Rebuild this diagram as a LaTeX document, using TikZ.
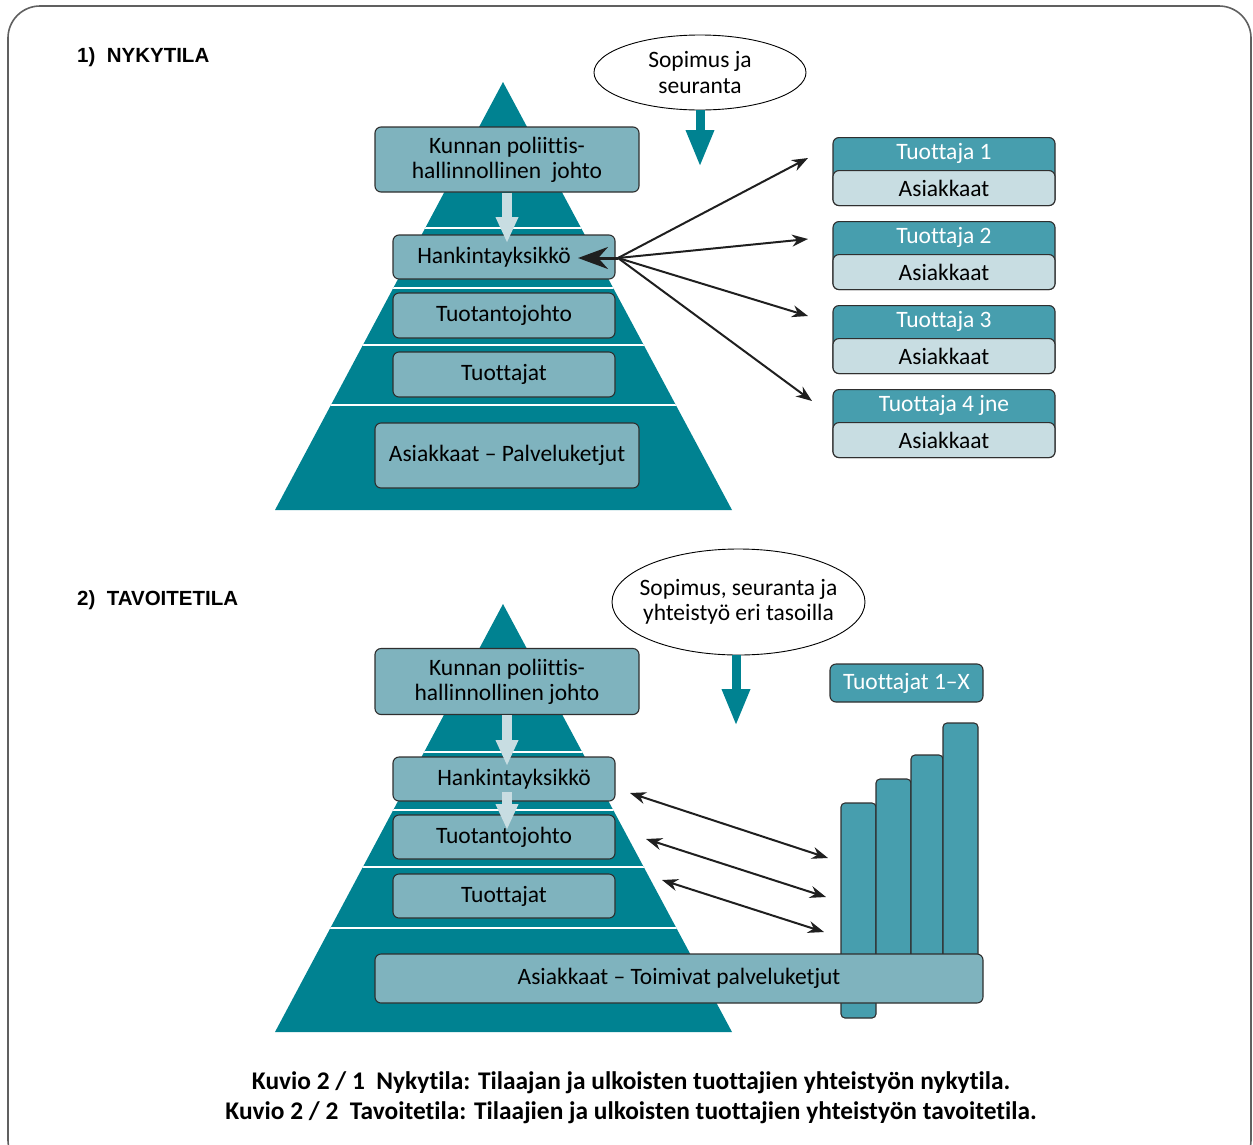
\documentclass[tikz,border=0pt]{standalone}
\usepackage{fontspec}
\setmainfont{Carlito}[Ligatures={TeX,NoCommon}]
\newfontfamily\titlefont{Liberation Sans}
\usetikzlibrary{arrows.meta,shapes.geometric}

\definecolor{pyramid}{HTML}{008291}
\definecolor{tierfill}{HTML}{7FB3BE}
\definecolor{producer}{HTML}{479EAE}
\definecolor{client}{HTML}{C8DDE2}
\definecolor{outline}{HTML}{2F2F2F}

\tikzset{
  tierbox/.style={draw=outline, fill=tierfill, line width=1.1pt, rounded corners=6pt,
    inner sep=0pt, align=center, font=\fontsize{23.5}{25}\selectfont},
  header/.style={tierbox, fill=producer, text=white},
  clientbox/.style={tierbox, fill=client},
  bubble/.style={draw=black, ellipse, fill=white, line width=0.9pt, inner sep=0pt,
    align=center, font=\fontsize{23.5}{25.5}\selectfont},
  flow/.style={line width=2pt, draw=black!88, -{Stealth[length=16pt,width=12pt]}},
  twoway/.style={line width=2pt, draw=black!88,
    {Stealth[length=16pt,width=12pt]}-{Stealth[length=16pt,width=12pt]}},
  contract/.style={draw=pyramid, line width=9pt, -{Triangle[length=37pt,width=26pt]}},
  handover/.style={draw=client, line width=10pt, -{Triangle[length=26pt,width=21pt]}},
  heading/.style={font=\titlefont\bfseries\fontsize{20.5}{24}\selectfont, anchor=west, inner sep=0pt},
  caption/.style={font=\bfseries\fontsize{25.4}{28}\selectfont, inner sep=0pt},
  bar/.style={fill=producer, draw=outline, line width=1.1pt, rounded corners=4pt}
}

\begin{document}
\begin{tikzpicture}[x=1pt,y=-1pt]
  \useasboundingbox (0,0) rectangle (1253,1144);
  \draw[gray!75!black, line width=1.6pt, rounded corners=32pt] (8,6) rectangle (1251,1172);% frame

  % 1) NYKYTILA
  \node[heading] (title1) at (77,57) {1)\ \ NYKYTILA};
  \begin{scope}
    \clip (503,82) -- (732,510) -- (275,510) -- cycle;
    \fill[pyramid] (260,70) rectangle (750,520);
    \foreach \h in {228,288,345,405}
      \draw[white, line width=2.5pt] (260,\h) -- (750,\h);
  \end{scope}

  \node[tierbox, minimum width=264, minimum height=65] (kunta1) at (507,159.5) {Kunnan poliittis-\\hallinnollinen\ \ johto};
  \node[tierbox, minimum width=222, minimum height=44] (hankinta1) at (504,257) {Hankintayksikkö\kern20pt};
  \node[tierbox, minimum width=222, minimum height=45] (tuotanto1) at (504,315.5) {Tuotantojohto};
  \node[tierbox, minimum width=222, minimum height=45] (tuottajat1) at (504,374.5) {Tuottajat};
  \node[tierbox, minimum width=264, minimum height=65] (asiakkaat1) at (507,455.5) {Asiakkaat – Palveluketjut};

  \coordinate (kuntatip1) at (507,243);
  \draw[handover] (kunta1.south) -- (kuntatip1);

  \node[bubble, minimum width=212, minimum height=75] (sopimus1) at (700,72.5) {Sopimus ja\\seuranta};
  \coordinate (drop1) at (700,167);
  \draw[contract] (sopimus1.south) -- (drop1);

  \foreach \n/\lab/\top in {1/1/137,2/2/221,3/3/305,4/4 jne/389}{% producers and their clients
    \node[header, minimum width=222, minimum height=68, anchor=north] (tuottaja\n) at (944,\top) {};
    \node[clientbox, minimum width=222, minimum height=35, anchor=south] (asiak\n) at (tuottaja\n.south) {Asiakkaat};
    \node[text=white, font=\fontsize{23.5}{25}\selectfont] (nimi\n) at (944,{\top+16}) {Tuottaja \lab};
  }

  \coordinate (hub) at (618,258);
  \coordinate (hanktip) at (578,258);
  \draw[line width=3pt, draw=black!88, -{Stealth[length=30pt,width=22pt]}] (hub) -- (hanktip);
  \foreach \i/\x/\y in {1/808/158,2/808/239,3/808/316,4/812/401}{
    \coordinate (reach\i) at (\x,\y);
    \draw[flow] (hub) -- (reach\i);
  }

  % 2) TAVOITETILA
  \node[heading] (title2) at (77,600) {2)\ \ TAVOITETILA};
  \begin{scope}
    \clip (503,604) -- (732,1032) -- (275,1032) -- cycle;
    \fill[pyramid] (260,590) rectangle (750,1040);
    \foreach \h in {752,810,867,928}
      \draw[white, line width=2.5pt] (260,\h) -- (750,\h);
  \end{scope}

  \node[tierbox, minimum width=264, minimum height=66] (kunta2) at (507,681.5) {Kunnan poliittis-\\hallinnollinen johto};
  \node[tierbox, minimum width=222, minimum height=44] (hankinta2) at (504,779) {\kern20pt Hankintayksikkö};
  \node[tierbox, minimum width=222, minimum height=44] (tuotanto2) at (504,837) {Tuotantojohto};
  \node[tierbox, minimum width=222, minimum height=44] (tuottajat2) at (504,896) {Tuottajat};

  \coordinate (kuntatip2) at (507,766);
  \draw[handover] (kunta2.south) -- (kuntatip2);
  \coordinate (hanktop2) at (507,792);
  \coordinate (hanktip2) at (507,830);
  \draw[handover] (hanktop2) -- (hanktip2);

  \node[bubble, inner xsep=-12pt, minimum width=253, minimum height=106] (sopimus2) at (738.5,602) {Sopimus, seuranta ja\\yhteistyö eri tasoilla};
  \coordinate (drop2) at (736,726);
  \draw[contract] (sopimus2.south -| drop2) -- (drop2);

  \node[header, minimum width=153, minimum height=38] (tuottajat1x) at (906.5,683) {Tuottajat 1–X};
  \foreach \l/\r/\t/\b in {841/876/803/1018,876/911/779/1000,911/943/755/1000,943/978/723/1000}
    \draw[bar] (\l,\t) rectangle (\r,\b);% one bar per producer
  \node[tierbox, minimum width=608, minimum height=49] (asiakkaat2) at (679,978.5) {Asiakkaat – Toimivat palveluketjut};

  \foreach \i/\xa/\ya/\xb/\yb in {1/630/793/828/858,2/646/839/826/897,3/662/880/824/932}{
    \coordinate (taso\i) at (\xa,\ya);
    \coordinate (palkki\i) at (\xb,\yb);
    \draw[twoway] (taso\i) -- (palkki\i);
  }

  % captions
  \node[caption] (kuvio1) at (631,1083) {Kuvio 2 / 1\ \ Nykytila: Tilaajan ja ulkoisten tuottajien yhteistyön nykytila.};
  \node[caption] (kuvio2) at (631,1113) {Kuvio 2 / 2\ \ Tavoitetila: Tilaajien ja ulkoisten tuottajien yhteistyön tavoitetila.};
\end{tikzpicture}
\end{document}
